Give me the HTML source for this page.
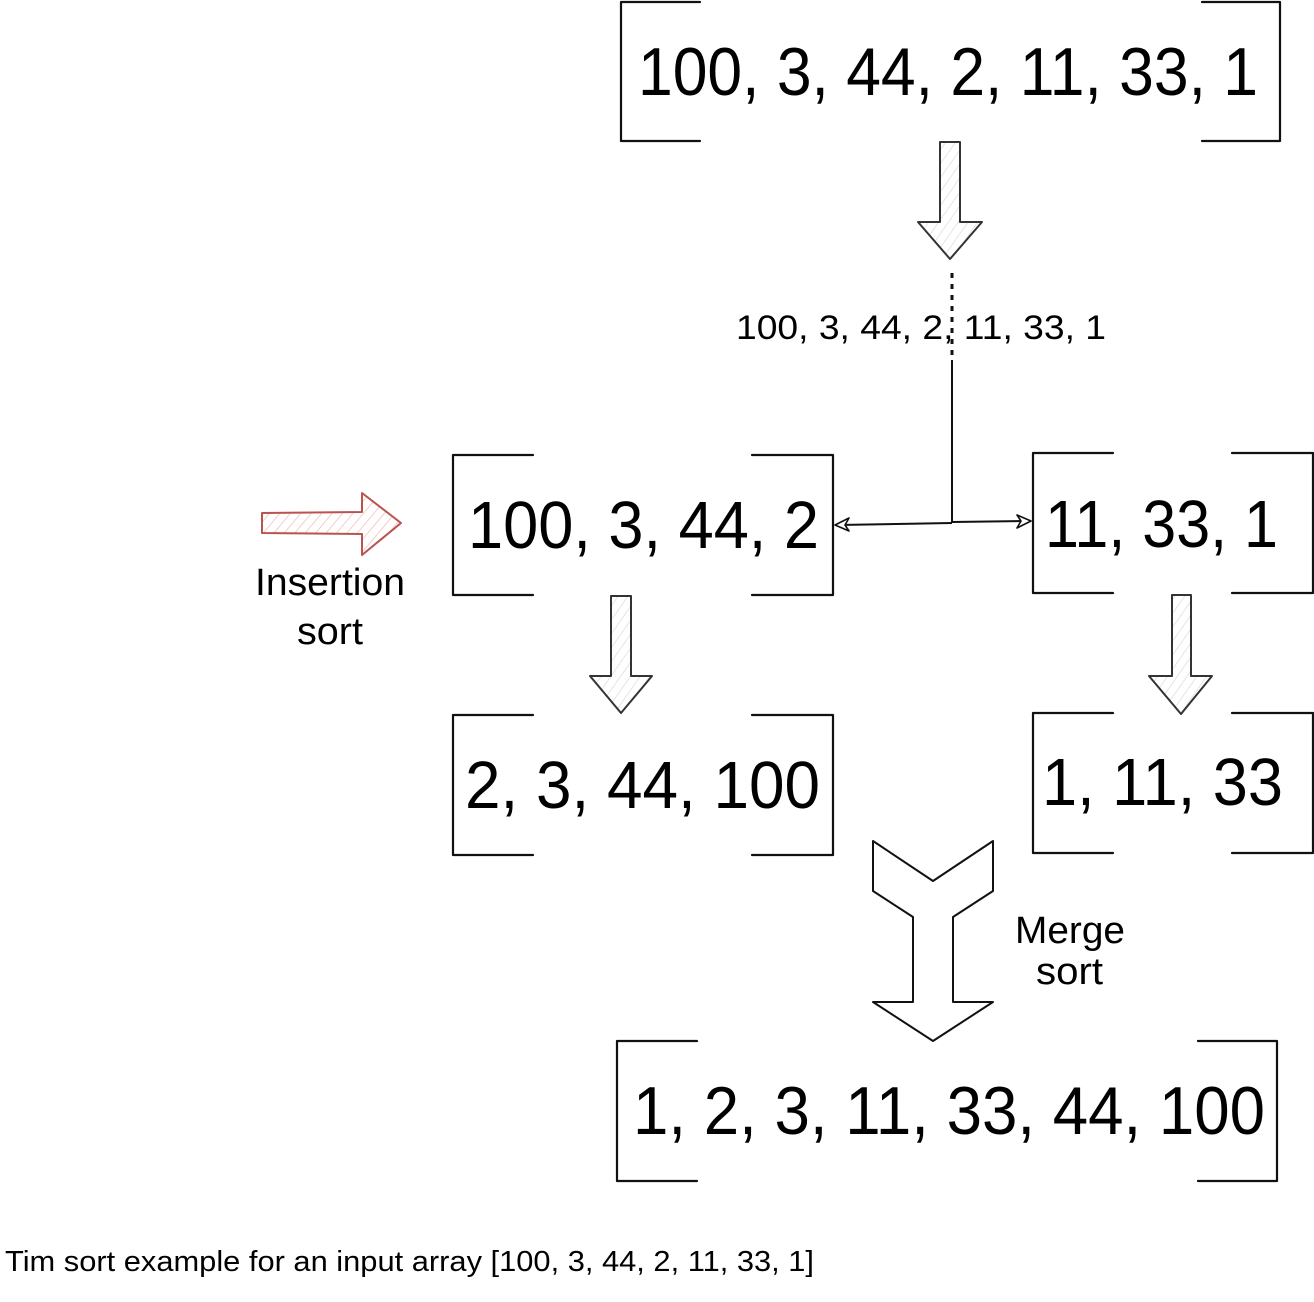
<!DOCTYPE html>
<html>
<head>
<meta charset="utf-8">
<style>
  html, body { margin: 0; padding: 0; background: #ffffff; }
  body { width: 1314px; height: 1302px; overflow: hidden; }
  svg { display: block; }
  text { font-family: "Liberation Sans", "DejaVu Sans", sans-serif; fill: #000; }
</style>
</head>
<body>
<svg width="1314" height="1302" viewBox="0 0 1314 1302" xmlns="http://www.w3.org/2000/svg">
  <defs>
    <pattern id="hatchGray" patternUnits="userSpaceOnUse" width="8" height="8" patternTransform="rotate(35)">
      <line x1="0" y1="0" x2="0" y2="8" stroke="#d4d4d4" stroke-width="1.2"/>
    </pattern>
    <pattern id="hatchRed" patternUnits="userSpaceOnUse" width="8" height="8" patternTransform="rotate(40)">
      <line x1="0" y1="0" x2="0" y2="8" stroke="#f3b7b3" stroke-width="1.4"/>
    </pattern>
  </defs>

  <g fill="none" stroke="#111" stroke-width="2.2" stroke-linecap="round" stroke-linejoin="round">
    <!-- Top box brackets -->
    <path d="M700 2 L621 2 L621 141 L700 141"/>
    <path d="M1202 2 L1280 2 L1280 141 L1202 141"/>
    <!-- Box 100,3,44,2 -->
    <path d="M533 455 L453 455 L453 595 L533 595"/>
    <path d="M752 455 L833 455 L833 595 L752 595"/>
    <!-- Box 11,33,1 -->
    <path d="M1113 453 L1033 453 L1033 593 L1113 593"/>
    <path d="M1232 453 L1313 453 L1313 593 L1232 593"/>
    <!-- Box 2,3,44,100 -->
    <path d="M533 715 L453 715 L453 855 L533 855"/>
    <path d="M752 715 L833 715 L833 855 L752 855"/>
    <!-- Box 1,11,33 -->
    <path d="M1113 713 L1033 713 L1033 853 L1113 853"/>
    <path d="M1232 713 L1313 713 L1313 853 L1232 853"/>
    <!-- Bottom box -->
    <path d="M697 1041 L617 1041 L617 1181 L697 1181"/>
    <path d="M1198 1041 L1277 1041 L1277 1181 L1198 1181"/>
  </g>

  <!-- Hatched down arrows -->
  <g stroke="#333" stroke-width="2" stroke-linejoin="round">
    <polygon points="940,142 960,142 960,222 982,222 950,259 918,222 940,222" fill="url(#hatchGray)"/>
    <polygon points="611,596 631,596 631,676 652,676 621,713 590,676 611,676" fill="url(#hatchGray)"/>
    <polygon points="1172,595 1191,595 1191,676 1212,676 1181,714 1149,676 1172,676" fill="url(#hatchGray)"/>
  </g>

  <!-- Red insertion arrow -->
  <polygon points="262,513 362,512 362,493 401,523 362,555 362,534 262,533" fill="url(#hatchRed)" stroke="#b85450" stroke-width="2" stroke-linejoin="round"/>

  <!-- Merge arrow -->
  <polygon points="873,841 933,881 993,841 993,891 953,917 953,1002 993,1002 933,1041 873,1002 913,1002 913,917 873,891" fill="#fff" stroke="#111" stroke-width="2" stroke-linejoin="round"/>

  <!-- Split connector -->
  <line x1="952" y1="273" x2="952" y2="360" stroke="#111" stroke-width="3" stroke-dasharray="5 6"/>
  <line x1="952" y1="360" x2="952" y2="523" stroke="#111" stroke-width="2"/>
  <path d="M952 523 L838 525" stroke="#111" stroke-width="2" fill="none"/>
  <path d="M952 522 L1027 521" stroke="#111" stroke-width="2" fill="none"/>
  <polygon points="835,525 849,518 845,525 849,531" fill="#fff" stroke="#111" stroke-width="1.6" stroke-linejoin="round"/>
  <polygon points="1031,521 1017,515 1021,521 1017,528" fill="#fff" stroke="#111" stroke-width="1.6" stroke-linejoin="round"/>

  <!-- Large texts -->
  <text x="638" y="95" font-size="68" textLength="620" lengthAdjust="spacingAndGlyphs">100, 3, 44, 2, 11, 33, 1</text>
  <text x="468" y="548" font-size="67" textLength="351" lengthAdjust="spacingAndGlyphs">100, 3, 44, 2</text>
  <text x="1045" y="547" font-size="67" textLength="233" lengthAdjust="spacingAndGlyphs">11, 33, 1</text>
  <text x="465" y="808" font-size="67" textLength="355" lengthAdjust="spacingAndGlyphs">2, 3, 44, 100</text>
  <text x="1042" y="805" font-size="67" textLength="241" lengthAdjust="spacingAndGlyphs">1, 11, 33</text>
  <text x="633" y="1134" font-size="68" textLength="632" lengthAdjust="spacingAndGlyphs">1, 2, 3, 11, 33, 44, 100</text>

  <!-- Middle small text -->
  <text x="736" y="339" font-size="34" textLength="370" lengthAdjust="spacingAndGlyphs">100, 3, 44, 2, 11, 33, 1</text>

  <!-- Labels -->
  <text x="255" y="595" font-size="38" textLength="150" lengthAdjust="spacingAndGlyphs">Insertion</text>
  <text x="297" y="644" font-size="38" textLength="66" lengthAdjust="spacingAndGlyphs">sort</text>
  <text x="1015" y="943" font-size="38" textLength="110" lengthAdjust="spacingAndGlyphs">Merge</text>
  <text x="1036" y="984" font-size="38" textLength="67" lengthAdjust="spacingAndGlyphs">sort</text>

  <!-- Caption -->
  <text x="5" y="1271" font-size="29" textLength="809" lengthAdjust="spacingAndGlyphs">Tim sort example for an input array [100, 3, 44, 2, 11, 33, 1]</text>
</svg>
</body>
</html>
